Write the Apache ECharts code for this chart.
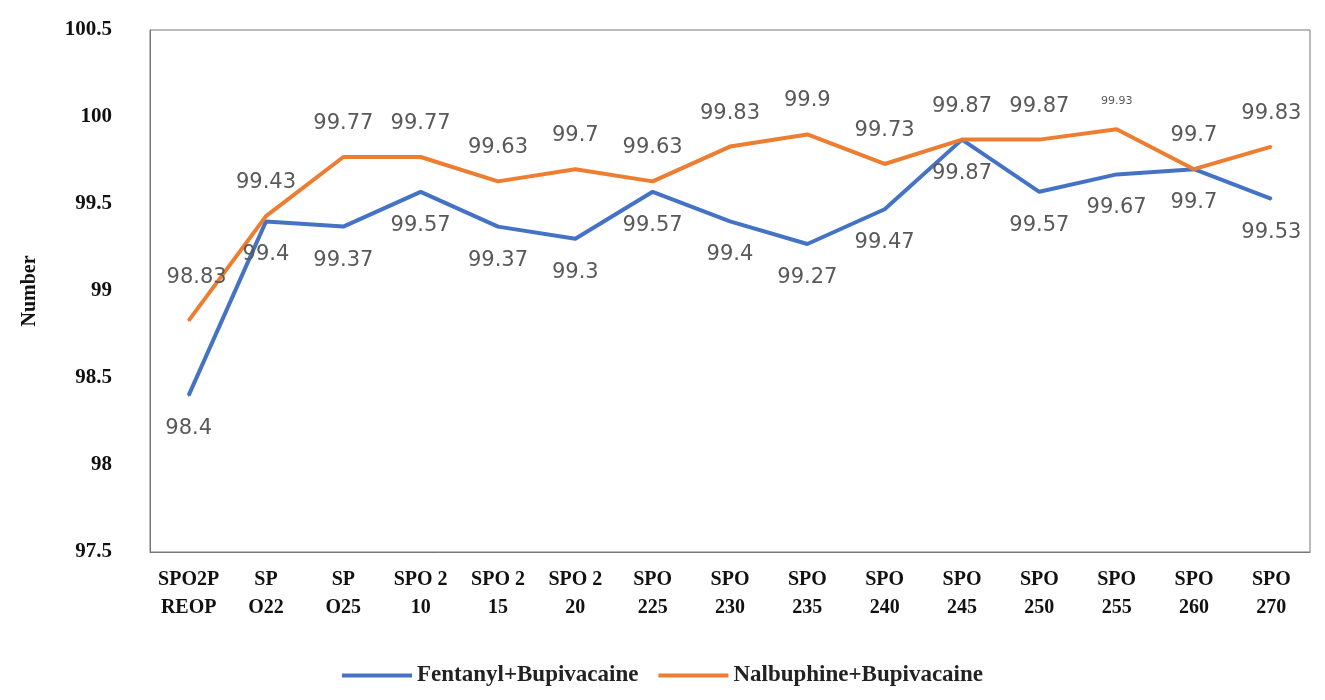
<!DOCTYPE html>
<html><head><meta charset="utf-8">
<script src="https://cdn.jsdelivr.net/npm/echarts@6/dist/echarts.min.js"></script>
<style>body{margin:0}#c{width:1325px;height:700px}</style></head>
<body><div id="c"></div>
<script>
var categories = ['SPO2P\nREOP','SP\nO22','SP\nO25','SPO 2\n10','SPO 2\n15','SPO 2\n20','SPO\n225','SPO\n230','SPO\n235','SPO\n240','SPO\n245','SPO\n250','SPO\n255','SPO\n260','SPO\n270']
var fentanyl = [98.4,99.4,99.37,99.57,99.37,99.3,99.57,99.4,99.27,99.47,99.87,99.57,99.67,99.7,99.53]
var nalbuphine = [98.83,99.43,99.77,99.77,99.63,99.7,99.63,99.83,99.9,99.73,99.87,99.87,99.93,99.7,99.83]

var serif = 'Liberation Serif'
var lbl = {show: true, color: '#595959', fontSize: 21, fontFamily: 'DejaVu Sans'}

var chart = echarts.init(document.getElementById('c'))
chart.setOption({
    animation: false,
    grid: {left: 150, right: 15, top: 30, bottom: 148, show: true, borderColor: '#777', borderWidth: 1},
    legend: {
        bottom: 8, left: 'center', itemWidth: 70, itemHeight: 4, itemGap: 20,
        icon: 'rect',
        textStyle: {fontFamily: serif, fontWeight: 'bold', fontSize: 23, color: '#222'},
        data: ['Fentanyl+Bupivacaine', 'Nalbuphine+Bupivacaine']
    },
    xAxis: {
        type: 'category', data: categories,
        axisTick: {show: false},
        axisLine: {lineStyle: {color: '#777'}},
        axisLabel: {fontFamily: serif, fontWeight: 'bold', fontSize: 20, color: '#111', lineHeight: 28, interval: 0, margin: 14}
    },
    yAxis: {
        type: 'value', min: 97.5, max: 100.5, interval: 0.5,
        name: 'Number', nameLocation: 'middle', nameGap: 110, nameRotate: 90,
        nameTextStyle: {fontFamily: serif, fontWeight: 'bold', fontSize: 20, color: '#111'},
        splitLine: {show: false},
        axisLine: {show: true, lineStyle: {color: '#777'}},
        axisLabel: {fontFamily: serif, fontWeight: 'bold', fontSize: 21, color: '#111', margin: 38,
            formatter: function (v) { return String(+v.toFixed(1)) }}
    },
    series: [
        {
            name: 'Fentanyl+Bupivacaine', type: 'line', data: fentanyl,
            symbol: 'circle', symbolSize: 2, showSymbol: true,
            lineStyle: {width: 4, color: '#4472C4'}, itemStyle: {color: '#4472C4'},
            label: Object.assign({}, lbl, {position: 'bottom', distance: 22})
        },
        {
            name: 'Nalbuphine+Bupivacaine', type: 'line', data: nalbuphine.map(function (v, i) {
                if (i === 12) return {value: v, label: {fontSize: 11}}
                if (i === 0) return {value: v, label: {position: 'top', offset: [8, -10]}}
                return v
            }),
            symbol: 'circle', symbolSize: 2, showSymbol: true,
            lineStyle: {width: 4, color: '#ED7D31'}, itemStyle: {color: '#ED7D31'},
            label: Object.assign({}, lbl, {position: 'top', distance: 22})
        }
    ]
})
</script></body></html>
